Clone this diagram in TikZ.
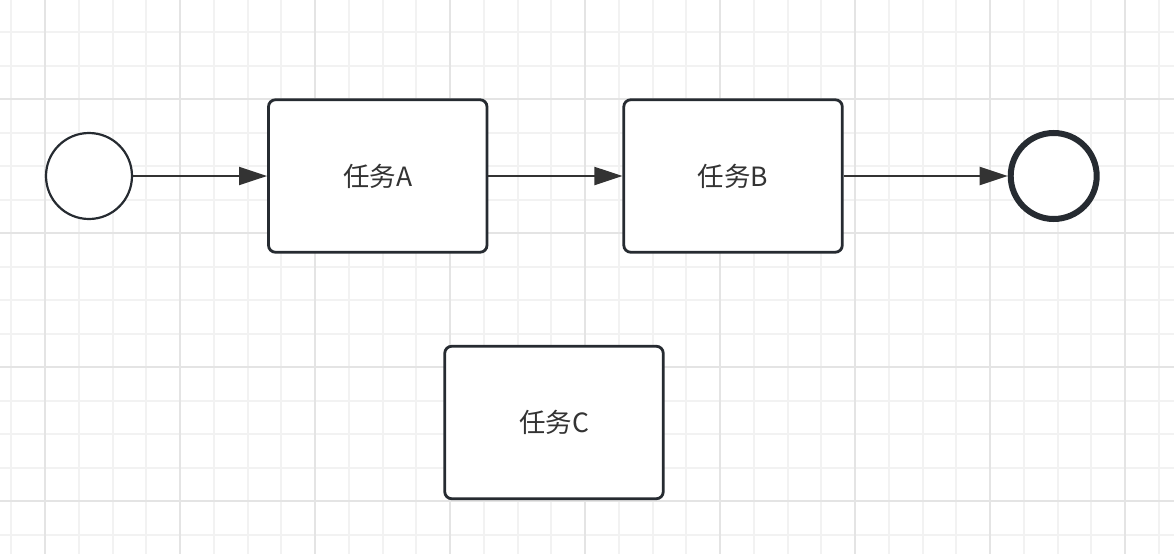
\documentclass[tikz,border=0pt]{standalone}
\usepackage{fontspec}
\newfontfamily\cjk{Noto Sans CJK SC}
\usetikzlibrary{arrows.meta, positioning}
\definecolor{edgeline}{HTML}{262B31}
\definecolor{flowline}{HTML}{333333}
\definecolor{gridminor}{HTML}{F2F2F2}
\definecolor{gridmajor}{HTML}{E4E4E4}
\tikzset{
    event/.style={
        circle, draw=edgeline, fill=white,
        line width=2.2pt, minimum size=86pt, inner sep=0pt
    },
    endevent/.style={event, line width=6pt},
    task/.style={
        rectangle, rounded corners=7pt,
        draw=edgeline, fill=white, line width=2.8pt,
        minimum width=218.5pt, minimum height=152.5pt,
        font=\cjk\fontsize{26.5}{30}\selectfont, text=black!80
    },
    flow/.style={-{Triangle[length=28pt, width=18pt]}, line width=2pt, draw=flowline},
    minorline/.style={draw=gridminor, line width=2pt},
    majorline/.style={draw=gridmajor, line width=2.5pt}
}

\begin{document}
\begin{tikzpicture}[x=1pt, y=-1pt]
    % page and background grid
    \fill[white] (0,0) rectangle (1174,554);
    \useasboundingbox (0,0) rectangle (1174,554);
    \begin{scope}
        \clip (0,0) rectangle (1174,554);
        \foreach \k in {-1,...,33}
            \draw[minorline] (45+\k*33.75,0) -- (45+\k*33.75,554);
        \foreach \k in {-2,...,13}
            \draw[minorline] (0,99+\k*33.5) -- (1174,99+\k*33.5);
        \foreach \k in {0,...,8}
            \draw[majorline] (45+\k*135,0) -- (45+\k*135,554);
        \foreach \k in {0,...,3}
            \draw[majorline] (0,99+\k*134) -- (1174,99+\k*134);
    \end{scope}

    \node[event] (start) at (89,176) {};
    \node[task, right=134pt of start] (taskA) {任务A};
    \node[task, right=134pt of taskA] (taskB) {任务B};
    \node[endevent, right=164pt of taskB] (finish) {};
    \node[task] (taskC) at (554,422.5) {任务C};

    \draw[flow] (start) -- (taskA);
    \draw[flow] (taskA) -- (taskB);
    \draw[flow] (taskB) -- (finish);
\end{tikzpicture}
\end{document}
